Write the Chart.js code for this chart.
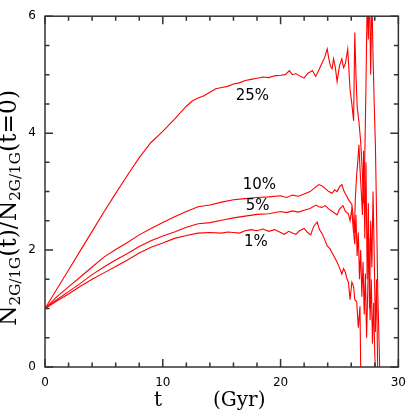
<!DOCTYPE html>
<html>
<head>
<meta charset="utf-8">
<script src="https://cdn.jsdelivr.net/npm/chart.js@4.4.1/dist/chart.umd.min.js"></script>
<style>
  body { margin: 0; background: #fff; }
  canvas { display: block; }
</style>
</head>
<body>
<canvas id="myChart" width="415" height="412"></canvas>
<script>
// time (Gyr) and N2G/1G(t)/N2G/1G(t=0) for each mass-loss fraction
const t25 = [0, 1, 2, 3, 4, 5, 6, 7, 8, 9, 10, 11, 12,
  12.5, 13, 13.5, 14, 14.5, 15, 15.5, 16, 16.5, 17, 17.5, 18, 18.5, 19, 19.5, 20,
  20.4, 20.75, 21, 21.3, 21.6, 22, 22.3, 22.7, 22.98, 23.2, 23.5, 23.75, 23.96, 24.1, 24.23, 24.37, 24.5, 24.65, 24.8, 25,
  25.2, 25.35, 25.5, 25.7, 25.9, 26.05, 26.2, 26.3, 26.4, 26.5, 26.65, 26.8, 26.95, 27.05, 27.15, 27.25, 27.35, 27.45, 27.55, 27.65, 27.75, 27.85, 27.95, 28.05, 28.15, 28.25, 28.35, 28.45];
const n25 = [1, 1.33, 1.66, 1.99, 2.32, 2.65, 2.97, 3.28, 3.58, 3.84, 4.03, 4.24, 4.46,
  4.55, 4.6, 4.64, 4.7, 4.76, 4.78, 4.8, 4.84, 4.86, 4.9, 4.92, 4.94, 4.96, 4.95, 4.98, 4.99,
  5.0, 5.07, 5.0, 5.02, 4.98, 4.94, 5.02, 5.07, 4.97, 5.06, 5.19, 5.3, 5.44, 5.27, 5.15, 5.1, 5.27, 5.12, 4.88, 5.15,
  5.27, 5.12, 5.19, 5.44, 4.74, 4.5, 4.21, 5.72, 5.0, 4.46, 4.2, 3.85, 3.3, 2.8, 3.6, 4.8, 6.3, 5.6, 6.5, 5.0, 6.4, 5.3, 4.5, 3.8, 2.6, 1.3, 0.5, -0.3];

const t10 = [0, 1, 2, 3, 4, 5, 6, 7, 8, 9, 10, 11, 12, 13, 14, 15, 16, 17, 18, 19, 20,
  20.5, 21, 21.5, 22, 22.5, 23, 23.25, 23.5, 23.8, 24.1, 24.37, 24.6, 24.8, 25, 25.2, 25.4, 25.6, 25.8,
  26.05, 26.15, 26.26, 26.35, 26.46, 26.55, 26.65, 26.74, 26.85, 26.95, 27.05, 27.15, 27.25, 27.35, 27.45, 27.55, 27.65, 27.75, 27.85, 27.95, 28.05, 28.15, 28.25];
const n10 = [1, 1.2, 1.37, 1.54, 1.71, 1.88, 2.01, 2.13, 2.26, 2.37, 2.47, 2.57, 2.66, 2.74, 2.77, 2.82, 2.86, 2.88, 2.9, 2.91, 2.93,
  2.9, 2.94, 2.92, 2.96, 3.0, 3.08, 3.12, 3.1, 3.05, 3.0, 2.97, 3.03, 3.0, 3.08, 3.12, 3.0, 2.93, 2.85,
  2.78, 2.6, 2.29, 2.9, 3.29, 3.5, 3.8, 3.4, 3.0, 2.6, 3.7, 2.2, 3.5, 1.5, 2.8, 1.0, 2.5, 1.7, 3.0, 1.9, 0.6, 1.5, -0.2];

const t5 = [0, 1, 2, 3, 4, 5, 6, 7, 8, 9, 10, 11, 12, 13, 14, 15, 16, 17, 18, 19, 20,
  20.5, 21, 21.5, 22, 22.5, 23, 23.25, 23.5, 23.8, 24.1, 24.4, 24.8, 25, 25.3, 25.5, 25.76, 25.9,
  26.05, 26.15, 26.3, 26.4, 26.5, 26.6, 26.7, 26.8, 26.9, 27, 27.1, 27.2, 27.3, 27.4, 27.5, 27.6, 27.7, 27.8, 27.9, 28, 28.1];
const n5 = [1, 1.15, 1.29, 1.43, 1.58, 1.71, 1.83, 1.94, 2.06, 2.16, 2.24, 2.31, 2.39, 2.45, 2.47, 2.51, 2.55, 2.58, 2.61, 2.62, 2.66,
  2.64, 2.67, 2.65, 2.68, 2.71, 2.77, 2.74, 2.73, 2.76, 2.7, 2.66, 2.6, 2.7, 2.76, 2.66, 2.62, 2.5,
  2.7, 2.4, 2.1, 2.6, 1.9, 2.3, 1.5, 2.0, 1.2, 1.8, 0.9, 1.6, 0.5, 1.3, 2.2, 0.8, 1.5, 0.4, 1.1, 0.2, -0.3];

const t1 = [0, 1, 2, 3, 4, 5, 6, 7, 8, 9, 10, 11, 12, 13, 14,
  15, 15.5, 16, 16.5, 17, 17.5, 18, 18.5, 19, 19.5, 20,
  20.3, 20.7, 21, 21.3, 21.6, 22, 22.3, 22.56, 22.8, 23.1, 23.3, 23.5, 23.7, 23.96, 24.2, 24.37, 24.6, 24.8, 25,
  25.2, 25.35, 25.5, 25.65, 25.76, 25.9, 26.05, 26.2, 26.3, 26.46, 26.6, 26.74, 26.82];
const n1 = [1, 1.13, 1.25, 1.38, 1.5, 1.61, 1.72, 1.83, 1.95, 2.05, 2.12, 2.2, 2.25, 2.29, 2.3,
  2.29, 2.31, 2.3, 2.29, 2.33, 2.35, 2.33, 2.36, 2.32, 2.35, 2.3,
  2.27, 2.32, 2.29, 2.27, 2.33, 2.37, 2.3, 2.26, 2.4, 2.48, 2.35, 2.29, 2.2, 2.07, 2.02, 1.955, 1.87, 1.79, 1.7,
  1.59, 1.68, 1.62, 1.5, 1.45, 1.15, 1.45, 1.38, 1.15, 1.12, 0.67, 1.04, -0.3];

const seriesLabels = ["25%", "10%", "5%", "1%"];
// where each curve label sits, in data units (t, ratio)
const labelAt = [[17.6, 4.63], [18.2, 3.11], [18.05, 2.75], [17.9, 2.14]];
const xTicks = [0, 10, 20, 30];
const yTicks = [0, 2, 4, 6];

function toPoints(ts, vs) {
  const n = Math.min(ts.length, vs.length);
  const out = [];
  for (let i = 0; i < n; i++) out.push({ x: ts[i], y: vs[i] });
  return out;
}

const series = [[t25, n25], [t10, n10], [t5, n5], [t1, n1]];

// frame with inward ticks on all four sides, curve labels, axis titles
const decorations = {
  id: "decorations",
  afterDraw(chart) {
    const { ctx, chartArea: a, scales: { x, y } } = chart;
    ctx.save();
    ctx.strokeStyle = "#333";
    ctx.lineWidth = 1.5;
    ctx.strokeRect(a.left, a.top, a.right - a.left, a.bottom - a.top);
    ctx.beginPath();
    for (let v = 0; v <= 30; v += 2) {
      const px = x.getPixelForValue(v);
      const len = v % 10 === 0 ? 8 : 4.5;
      ctx.moveTo(px, a.bottom); ctx.lineTo(px, a.bottom - len);
      ctx.moveTo(px, a.top); ctx.lineTo(px, a.top + len);
    }
    for (let v = 0; v <= 6; v += 0.5) {
      const py = y.getPixelForValue(v);
      const len = v % 2 === 0 ? 8 : 4.5;
      ctx.moveTo(a.left, py); ctx.lineTo(a.left + len, py);
      ctx.moveTo(a.right, py); ctx.lineTo(a.right - len, py);
    }
    ctx.stroke();

    // curve labels
    ctx.fillStyle = "#000";
    ctx.font = "15px 'DejaVu Sans'";
    ctx.textAlign = "center";
    ctx.textBaseline = "middle";
    seriesLabels.forEach((s, i) => {
      ctx.fillText(s, x.getPixelForValue(labelAt[i][0]), y.getPixelForValue(labelAt[i][1]));
    });

    // x title
    ctx.font = "20px 'DejaVu Serif'";
    ctx.textAlign = "left";
    ctx.textBaseline = "alphabetic";
    ctx.fillText("t", 154, 406);
    ctx.fillText("(Gyr)", 213, 406);

    // y title with subscripts, rotated, fitted to the length seen in the original
    const parts = [["N", 0], ["2G/1G", 1], ["(t)/N", 0], ["2G/1G", 1], ["(t=0)", 0]];
    const fontFor = (sub, k) => (sub ? 13 * k : 20 * k).toFixed(1) + "px 'DejaVu Serif'";
    let total = 0;
    parts.forEach(([txt, sub]) => { ctx.font = fontFor(sub, 1); total += ctx.measureText(txt).width; });
    const k = 236 / total;
    ctx.translate(15.5, 326);
    ctx.rotate(-Math.PI / 2);
    let cx = 0;
    parts.forEach(([txt, sub]) => {
      ctx.font = fontFor(sub, k);
      ctx.fillText(txt, cx, sub ? 4 : 0);
      cx += ctx.measureText(txt).width;
    });
    ctx.restore();
  }
};

new Chart("myChart", {
  type: "line",
  data: {
    datasets: series.map(([ts, vs], i) => ({
      label: seriesLabels[i],
      data: toPoints(ts, vs),
      borderColor: "#ff0000",
      borderWidth: 1.1,
      pointRadius: 0,
      tension: 0,
    })),
  },
  options: {
    responsive: false,
    animation: false,
    layout: { padding: { left: 0, top: 8, right: 11, bottom: 0 } },
    plugins: { legend: { display: false }, tooltip: { enabled: false } },
    scales: {
      x: {
        type: "linear",
        min: 0,
        max: 30,
        afterFit: (s) => { s.height = 45; },
        afterBuildTicks: (s) => { s.ticks = xTicks.map((v) => ({ value: v })); },
        grid: { display: false, drawTicks: false },
        border: { display: false },
        ticks: { color: "#000", padding: 9, font: { family: "DejaVu Sans", size: 12 }, maxRotation: 0 },
      },
      y: {
        type: "linear",
        min: 0,
        max: 6,
        afterFit: (s) => { s.width = 45; },
        afterBuildTicks: (s) => { s.ticks = yTicks.map((v) => ({ value: v })); },
        grid: { display: false, drawTicks: false },
        border: { display: false },
        ticks: { color: "#000", padding: 9, font: { family: "DejaVu Sans", size: 12 } },
      },
    },
  },
  plugins: [decorations],
});
</script>
</body>
</html>
